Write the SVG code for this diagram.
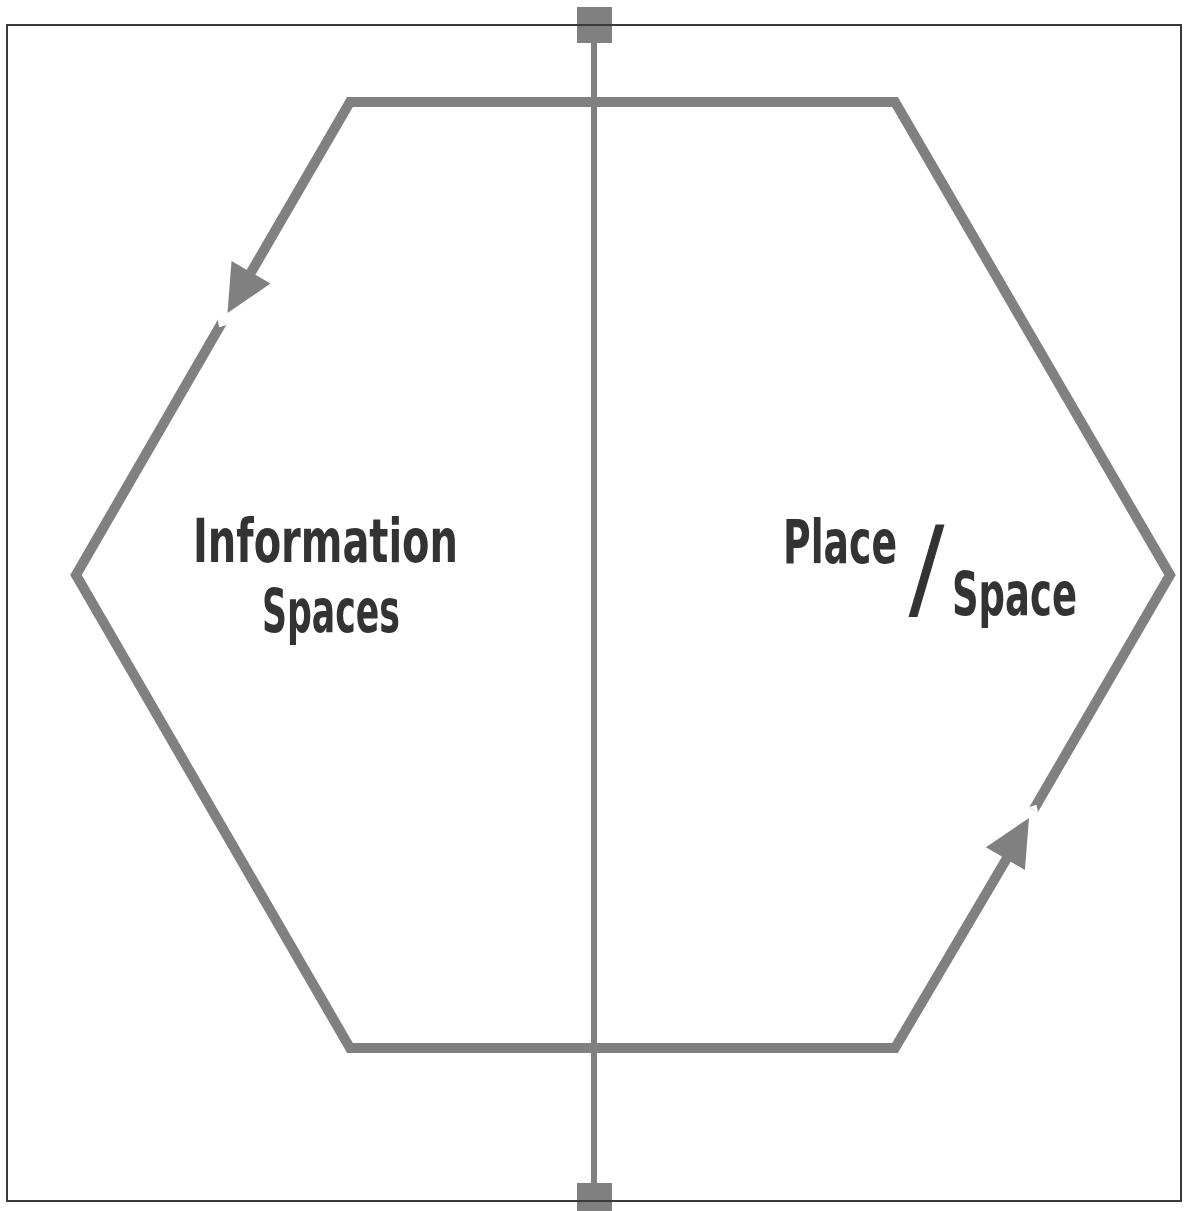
<svg xmlns="http://www.w3.org/2000/svg" width="1184" height="1211" viewBox="0 0 1184 1211">
<style>
.hex{fill:none;stroke:#808080;stroke-width:10;stroke-linejoin:miter;stroke-miterlimit:10}
.axis{stroke:#808080;stroke-width:6}
.sq{fill:#808080}
.head{fill:#808080}
.notch{fill:#ffffff}
.frame{fill:none;stroke:#3a3a3a;stroke-width:2}
.lbl{font-family:"DejaVu Sans Condensed","DejaVu Sans","Liberation Sans",sans-serif;font-weight:bold;font-size:60px;fill:#333333}
.slash{font-family:"DejaVu Sans Condensed","DejaVu Sans","Liberation Sans",sans-serif;font-weight:bold;font-size:112px;fill:#333333}
</style>
<rect width="1184" height="1211" fill="#ffffff"/>
<g id="axis">
<line class="axis" x1="594" y1="40" x2="594" y2="1186"/>
<rect id="top-square" class="sq" x="577" y="7" width="35" height="36"/>
<rect id="bottom-square" class="sq" x="577" y="1183" width="35" height="36"/>
</g>
<g id="connectors">
<path class="hex" d="M222.3,322 L76,575 L350,1048 L895,1048 L1010,853 M1033.4,810 L1170,575 L895,102 L350,102 L246,281"/>
<polygon class="head" points="227.5,313 270.5,283.6 231.5,261"/>
<polygon class="notch" points="227.1,324.8 217.5,319.3 219.3,327.2"/>
<polygon class="head" points="1029,818 1024.9,869.9 985.9,847.3"/>
<polygon class="notch" points="1038.2,812.8 1028.7,807.2 1036.4,804.8"/>
</g>
<g id="frame">
<rect class="frame" x="7" y="25" width="1174" height="1176"/>
</g>
<g id="information-spaces">
<text class="lbl" x="325.5" y="562" text-anchor="middle" textLength="265" lengthAdjust="spacingAndGlyphs">Information</text>
<text class="lbl" x="331" y="632" text-anchor="middle" textLength="138" lengthAdjust="spacingAndGlyphs">Spaces</text>
</g>
<g id="place-space">
<text class="lbl" x="783" y="563" textLength="114" lengthAdjust="spacingAndGlyphs">Place</text>
<text class="lbl" x="952" y="615" textLength="125" lengthAdjust="spacingAndGlyphs">Space</text>
<text class="slash" x="926.5" y="607" text-anchor="middle" textLength="36" lengthAdjust="spacingAndGlyphs" style="font-weight:normal">/</text>
</g>
</svg>
